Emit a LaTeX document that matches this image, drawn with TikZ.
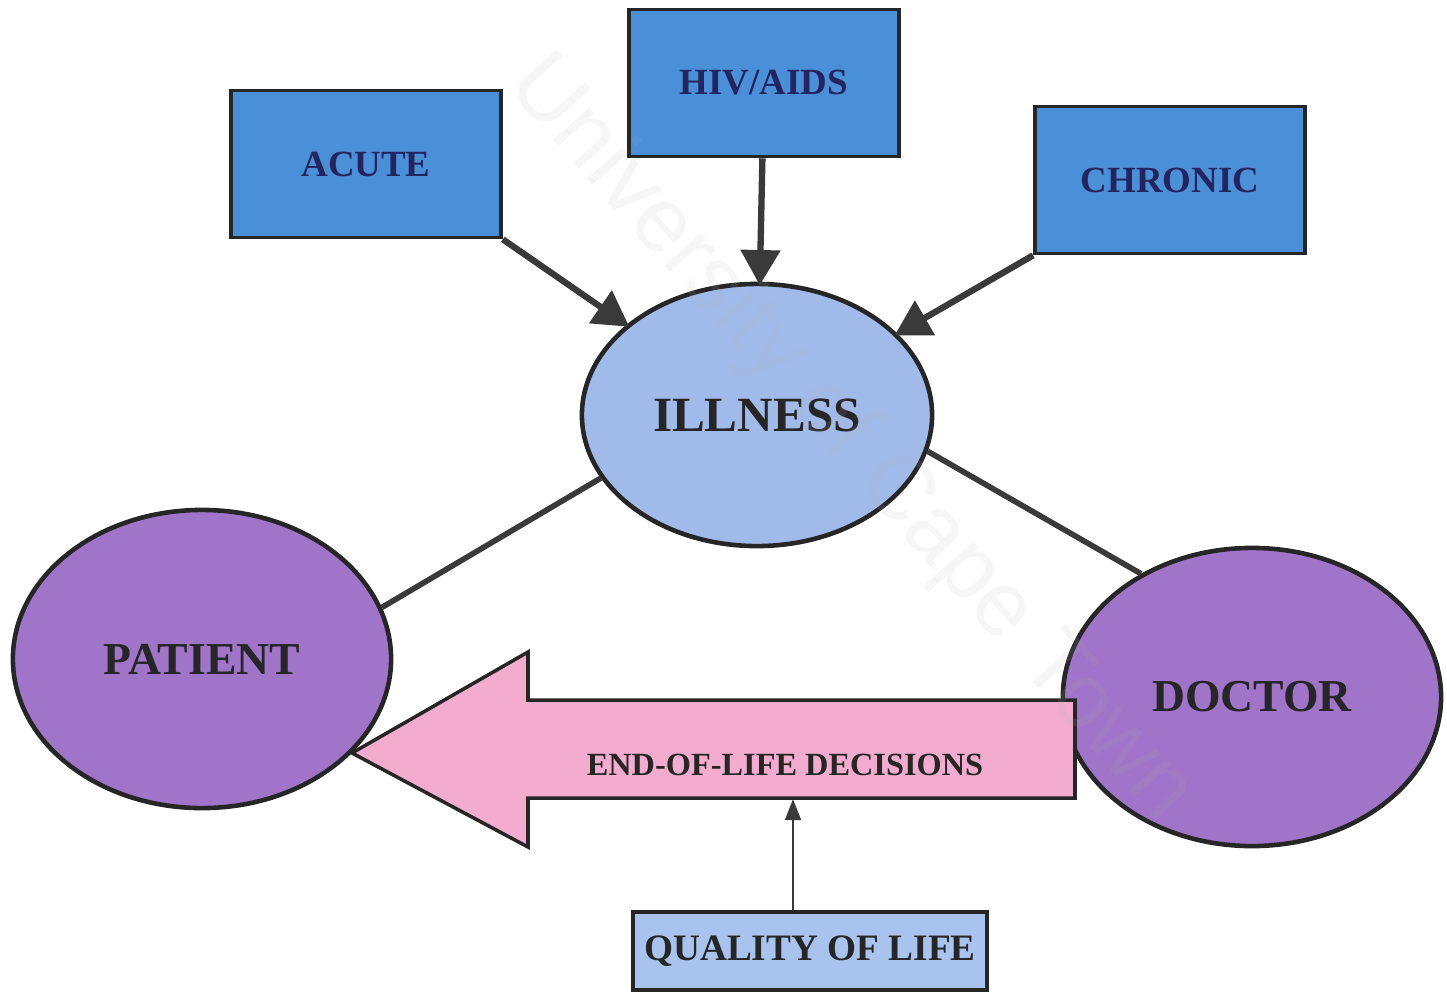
\documentclass[tikz,border=0pt]{standalone}
\usepackage{fontspec}
\setmainfont{Liberation Serif}
\setsansfont{Liberation Sans}
\usetikzlibrary{arrows.meta,shapes.geometric}

\definecolor{boxblue}{RGB}{74,144,217}
\definecolor{illblue}{RGB}{160,186,234}
\definecolor{personpurple}{RGB}{160,116,200}
\definecolor{arrowpink}{RGB}{243,172,206}
\definecolor{qolblue}{RGB}{168,196,238}
\definecolor{navytext}{RGB}{36,36,94}
\definecolor{edgegray}{RGB}{58,58,58}

\begin{document}
\begin{tikzpicture}[
    x=0.01cm, y=-0.01cm,
    cause box/.style={rectangle,fill=boxblue,draw=black!85,line width=1pt,minimum width=2.7cm,minimum height=1.47cm,inner sep=0pt,font=\fontsize{10.5}{12}\selectfont\bfseries,text=navytext},
    illness node/.style={ellipse,fill=illblue,draw=black!85,line width=1.3pt,minimum width=3.5cm,minimum height=2.62cm,inner sep=0pt,font=\fontsize{14}{16}\selectfont\bfseries,text=black!85},
    person node/.style={ellipse,fill=personpurple,draw=black!85,line width=1.3pt,minimum width=3.78cm,minimum height=2.98cm,inner sep=0pt,font=\fontsize{13}{15}\selectfont\bfseries,text=black!85},
    cause arrow/.style={-{Triangle[length=10pt,width=11pt]},edgegray,line width=1.8pt,shorten >=-1pt},
    link edge/.style={edgegray,line width=1.6pt},
    quality arrow/.style={-{Triangle[length=6pt,width=4.5pt]},edgegray,line width=0.6pt}
]

% Rahmen
\useasboundingbox (0,0) rectangle (1447,993);

% Ursachen
\node[cause box] (acute) at (366,164) {ACUTE};
\node[cause box] (hiv) at (764,83) {HIV/AIDS};
\node[cause box] (chronic) at (1170,180) {CHRONIC};

% Krankheit, Patient, Arzt
\node[illness node] (illness) at (757,415) {ILLNESS};
\node[person node] (patient) at (202,659) {PATIENT};
\node[person node] (doctor) at (1252,697) {DOCTOR};

% Pfeile zur Krankheit
\draw[cause arrow] (acute.south east) -- (illness);
\draw[cause arrow] (hiv) -- (illness);
\draw[cause arrow] (chronic.south west) -- (illness);

% Verbindungen
\draw[link edge] (illness.202) -- (patient.16);
\draw[link edge] (illness.348) -- (doctor.132);

% Grosser Pfeil (Arzt -> Patient)
\draw[fill=arrowpink,draw=black!85,line width=1pt]
  (1075,700) -- (528,700) -- (528,652) -- (352,753) -- (528,847) -- (528,798) -- (1075,798) -- cycle;
\node[font=\fontsize{9.2}{11}\selectfont\bfseries,text=black!85] (eol) at (785,765) {END-OF-LIFE DECISIONS};
\coordinate (eol bottom) at (793,799);

% Lebensqualitaet
\node[rectangle,fill=qolblue,draw=black!85,line width=1pt,minimum width=3.54cm,minimum height=0.78cm,inner sep=0pt,
      font=\fontsize{10.6}{12}\selectfont\bfseries,text=black!85] (qol) at (810,951) {QUALITY OF LIFE};
\draw[quality arrow] (qol.north -| eol bottom) -- (eol bottom);

% Wasserzeichen (blass, oben drauf)
\node[rotate=-48.5,text=gray!60,opacity=0.12,font=\fontsize{26}{26}\selectfont\sffamily] (watermark) at (850,440) {University of Cape Town};

\end{tikzpicture}
\end{document}
